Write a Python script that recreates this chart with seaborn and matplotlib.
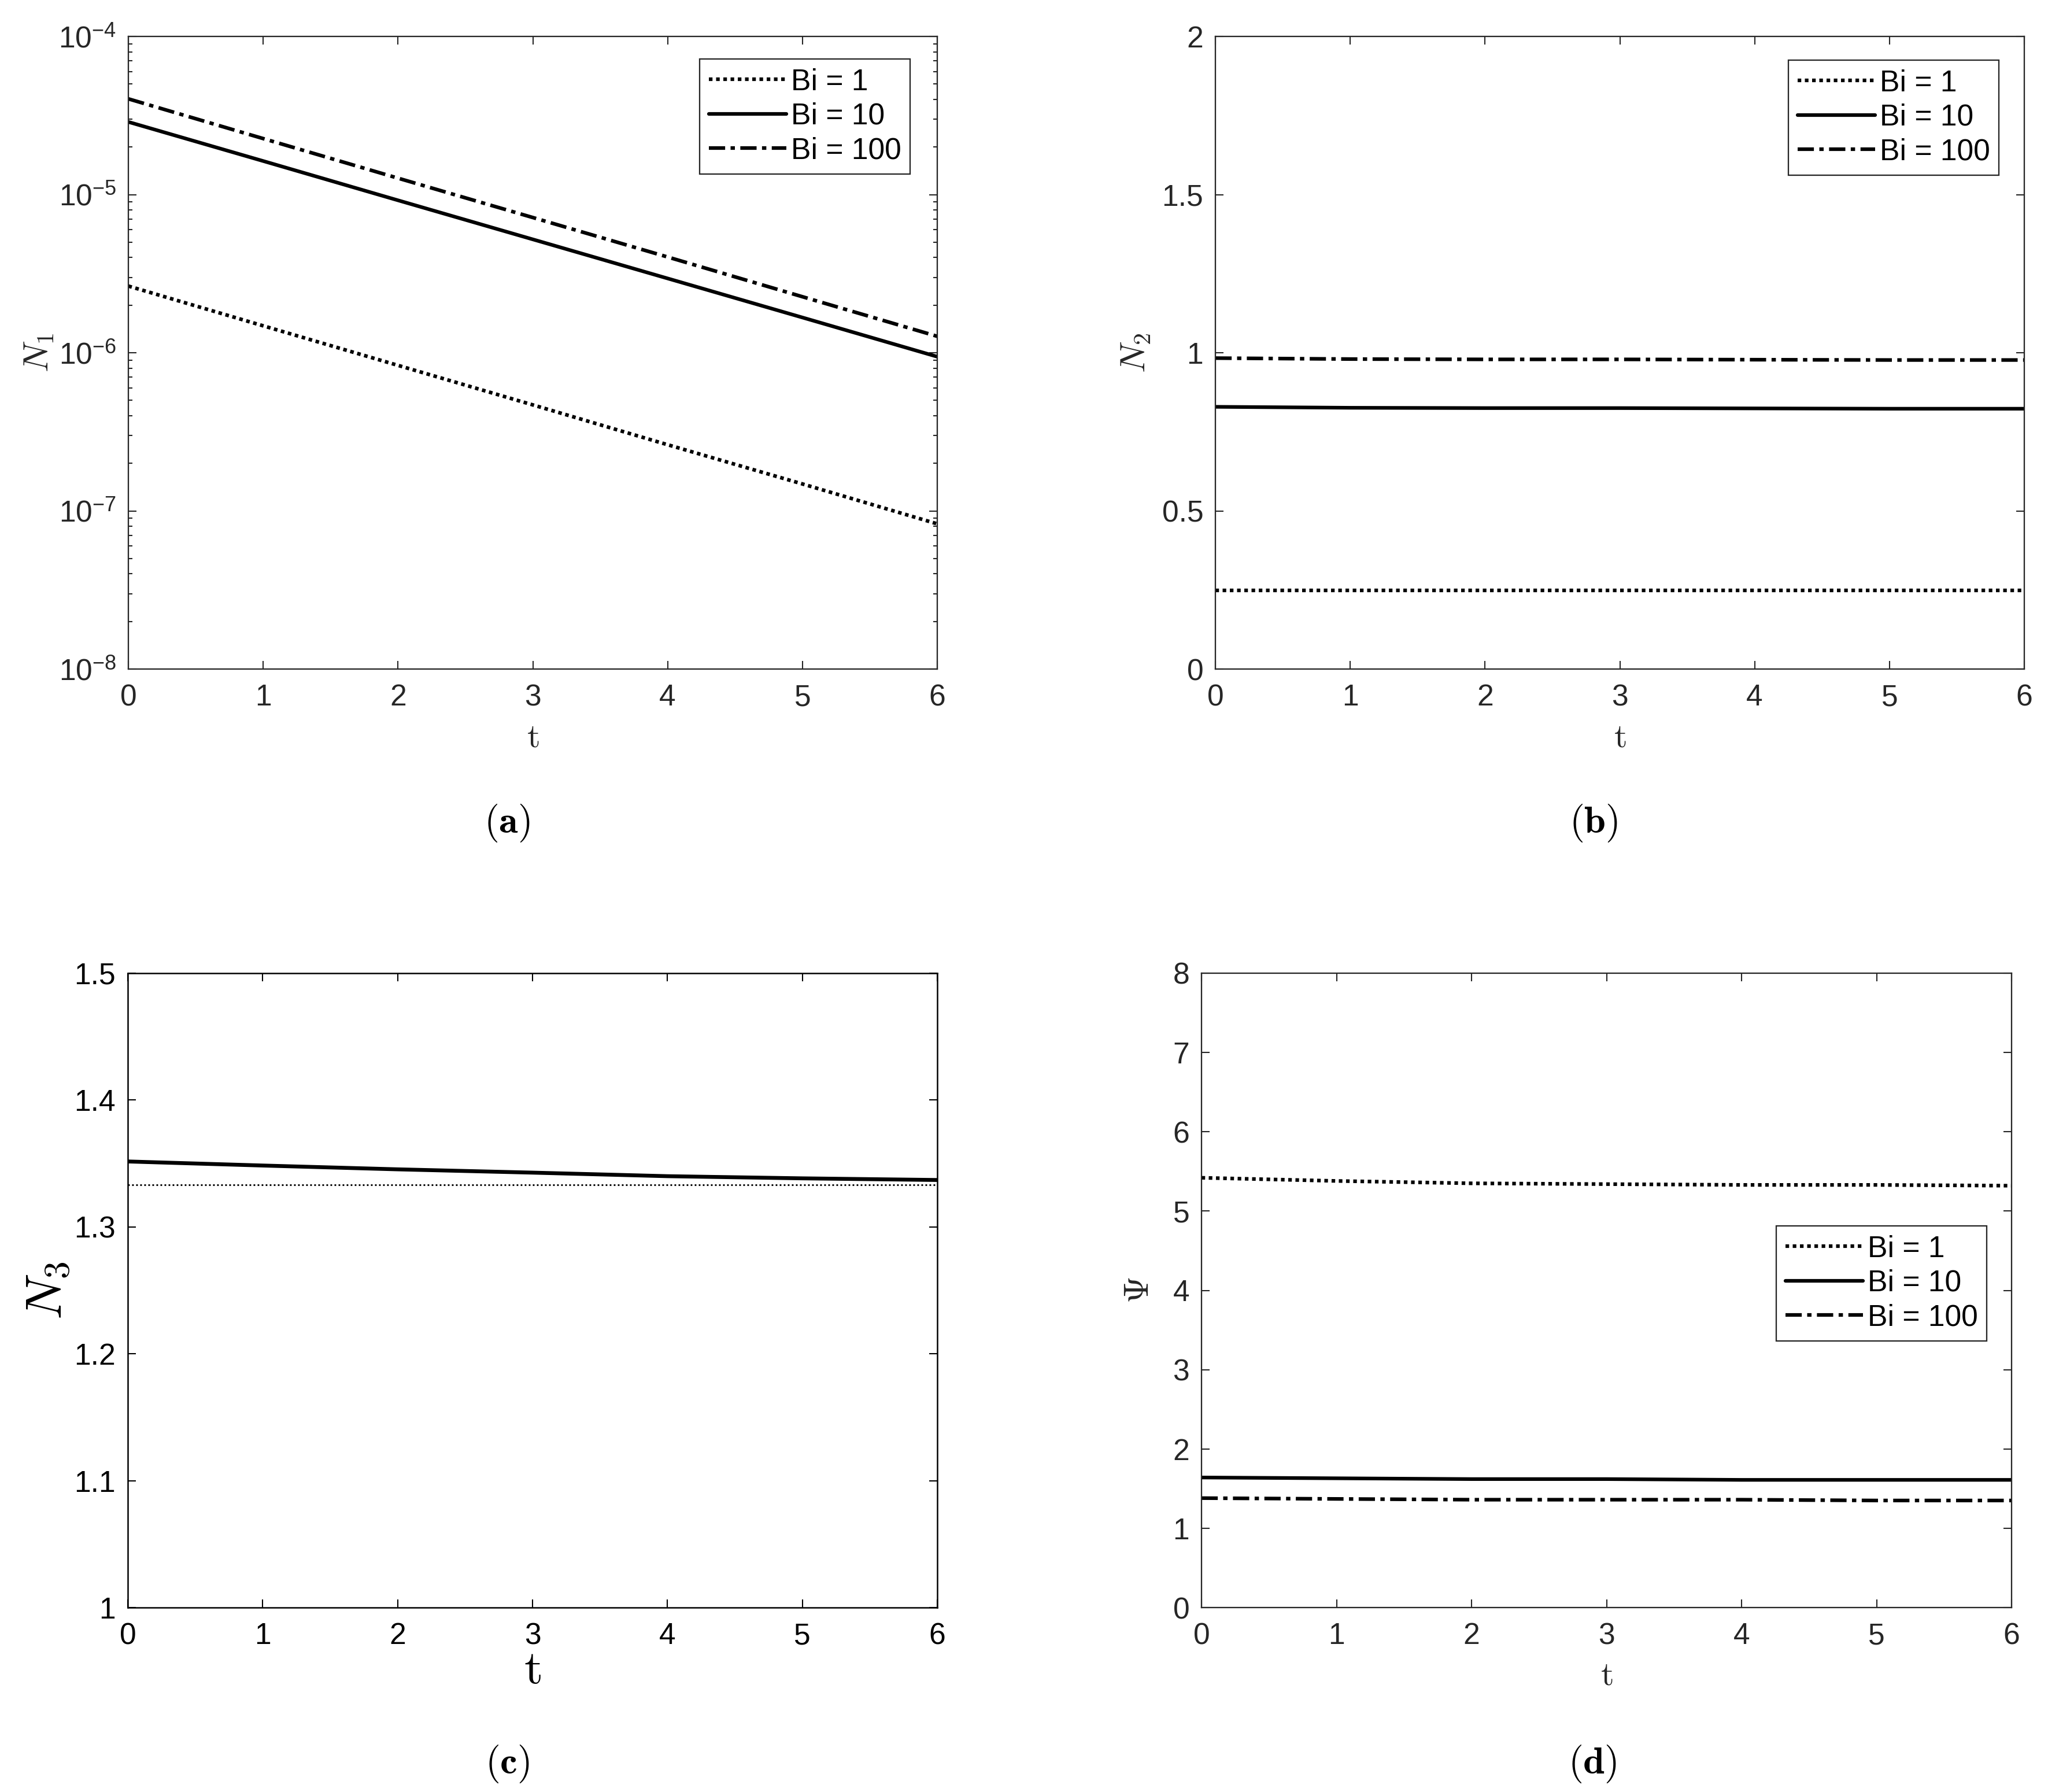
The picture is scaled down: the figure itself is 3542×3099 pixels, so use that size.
import numpy as np
import pandas as pd
import matplotlib
matplotlib.use("Agg")
import matplotlib.pyplot as plt
from matplotlib.ticker import FuncFormatter, LogLocator, MultipleLocator, NullFormatter
import seaborn as sns

# ---------------- data ----------------
t = [0, 1, 2, 3, 4, 5, 6]
labels = ["Bi = 1", "Bi = 10", "Bi = 100"]

N1_bi1 = [2.64e-6, 1.48e-6, 8.32e-7, 4.68e-7, 2.62e-7, 1.48e-7, 8.28e-8]
N1_bi10 = [2.88e-5, 1.63e-5, 9.20e-6, 5.21e-6, 2.95e-6, 1.67e-6, 9.44e-7]
N1_bi100 = [4.03e-5, 2.26e-5, 1.27e-5, 7.16e-6, 4.03e-6, 2.26e-6, 1.27e-6]

N2_bi1 = [0.249, 0.249, 0.249, 0.249, 0.249, 0.249, 0.249]
N2_bi10 = [0.829, 0.826, 0.825, 0.825, 0.824, 0.823, 0.823]
N2_bi100 = [0.983, 0.980, 0.979, 0.979, 0.978, 0.977, 0.977]

N3_bi1 = [1.3333, 1.3333, 1.3333, 1.3333, 1.3333, 1.3333, 1.3333]
N3_bi10 = [1.3516, 1.3484, 1.3454, 1.3428, 1.3400, 1.3383, 1.3370]

Psi_bi1 = [5.42, 5.38, 5.35, 5.34, 5.33, 5.33, 5.32]
Psi_bi10 = [1.64, 1.63, 1.62, 1.62, 1.61, 1.61, 1.61]
Psi_bi100 = [1.38, 1.37, 1.36, 1.36, 1.36, 1.35, 1.35]

# ---------------- style ----------------
sns.set_theme(style="ticks")
plt.rcParams["font.family"] = ["Liberation Sans", "DejaVu Sans"]
plt.rcParams["mathtext.fontset"] = "cm"
plt.rcParams["axes.unicode_minus"] = False

W, H = 3542, 3099
DPI = 300
fig = plt.figure(figsize=(W / DPI, H / DPI), dpi=DPI)
fig.patch.set_facecolor("white")

GREY = "#262626"
TICK_FS = 12.4


def make_ax(left, right, top, bottom):
    return fig.add_axes([left / W, 1 - bottom / H, (right - left) / W, (bottom - top) / H])


def style_ax(ax, color=GREY, lw_frame=0.55):
    for s in ax.spines.values():
        s.set_color(color)
        s.set_linewidth(lw_frame)
        s.set_visible(True)
    ax.tick_params(which="both", direction="in", top=True, right=True,
                   colors=color, labelcolor=color, width=0.5, labelsize=TICK_FS)
    ax.tick_params(axis="y", which="both", pad=5)
    ax.tick_params(axis="x", which="both", pad=6)
    ax.tick_params(which="major", length=3.4)
    ax.tick_params(which="minor", length=1.7)
    ax.set_facecolor("white")
    ax.grid(False)


LW = 1.5
DOT = (0, (1.0, 1.0))
DASHDOT = (0, (4.5, 1.5, 1.2, 1.5))


def draw(ax, y, style, label, lw=LW):
    sns.lineplot(x=t, y=y, ax=ax, color="black", linewidth=lw, label=label,
                 linestyle=style, legend=False)


def add_legend(ax, ax_w, ax_h, right_gap, top_gap):
    leg = ax.legend(loc="upper right",
                    bbox_to_anchor=(1 - right_gap / ax_w, 1 - top_gap / ax_h),
                    borderaxespad=0, fontsize=TICK_FS, handlelength=2.6,
                    handletextpad=0.15, borderpad=0.3, labelspacing=0.2,
                    fancybox=False, framealpha=1, edgecolor=GREY)
    leg.get_frame().set_linewidth(0.55)
    for txt in leg.get_texts():
        txt.set_color("black")
    return leg


fmt_g = FuncFormatter(lambda v, p: "%g" % v)

# ---------------- (a) ----------------
axA = make_ax(222, 1621, 63, 1157)
draw(axA, N1_bi1, DOT, labels[0])
draw(axA, N1_bi10, "-", labels[1])
draw(axA, N1_bi100, DASHDOT, labels[2])
axA.set_yscale("log")
axA.set_ylim(1e-8, 1e-4)
axA.set_xlim(0, 6)
axA.set_xticks(range(0, 7))
axA.yaxis.set_major_locator(LogLocator(base=10, numticks=10))
axA.yaxis.set_minor_locator(LogLocator(base=10, subs=np.arange(2, 10), numticks=50))
axA.yaxis.set_minor_formatter(NullFormatter())
style_ax(axA)
axA.set_xlabel(r"$\mathrm{t}$", fontsize=14, color=GREY, va="center")
axA.xaxis.set_label_coords(0.5, -0.109)
axA.set_ylabel(r"$N_1$", fontsize=14.5, color=GREY, va="center")
axA.yaxis.set_label_coords(-0.110, 0.5)
add_legend(axA, 1399, 1094, 47, 39)

# ---------------- (b) ----------------
axB = make_ax(2102, 3501, 63, 1157)
draw(axB, N2_bi1, DOT, labels[0])
draw(axB, N2_bi10, "-", labels[1])
draw(axB, N2_bi100, DASHDOT, labels[2])
axB.set_ylim(0, 2)
axB.set_xlim(0, 6)
axB.set_xticks(range(0, 7))
axB.set_yticks([0, 0.5, 1, 1.5, 2])
axB.yaxis.set_major_formatter(fmt_g)
style_ax(axB)
axB.set_xlabel(r"$\mathrm{t}$", fontsize=14, color=GREY, va="center")
axB.xaxis.set_label_coords(0.5, -0.109)
axB.set_ylabel(r"$N_2$", fontsize=14.5, color=GREY, va="center")
axB.yaxis.set_label_coords(-0.098, 0.5)
add_legend(axB, 1399, 1094, 44, 41)

# ---------------- (c) ----------------
axC = make_ax(221, 1621, 1683, 2780)
draw(axC, N3_bi1, (0, (1.0, 1.4)), labels[0], lw=0.7)
draw(axC, N3_bi10, "-", labels[1], lw=1.6)
axC.set_ylim(1, 1.5)
axC.set_xlim(0, 6)
axC.set_xticks(range(0, 7))
axC.set_yticks([1, 1.1, 1.2, 1.3, 1.4, 1.5])
axC.yaxis.set_major_formatter(fmt_g)
style_ax(axC, color="black", lw_frame=0.6)
axC.set_xlabel(r"$\mathrm{t}$", fontsize=20, color="black", va="center")
axC.xaxis.set_label_coords(0.5, -0.099)
axC.set_ylabel(r"$N_3$", fontsize=21, color="black", va="center")
axC.yaxis.set_label_coords(-0.098, 0.5)

# ---------------- (d) ----------------
axD = make_ax(2078, 3479, 1683, 2780)
draw(axD, Psi_bi1, DOT, labels[0])
draw(axD, Psi_bi10, "-", labels[1])
draw(axD, Psi_bi100, DASHDOT, labels[2])
axD.set_ylim(0, 8)
axD.set_xlim(0, 6)
axD.set_xticks(range(0, 7))
axD.set_yticks(range(0, 9))
style_ax(axD)
axD.set_xlabel(r"$\mathrm{t}$", fontsize=14, color=GREY, va="center")
axD.xaxis.set_label_coords(0.5, -0.1076)
axD.set_ylabel(r"$\Psi$", fontsize=14.5, color=GREY, va="center")
axD.yaxis.set_label_coords(-0.077, 0.5)
add_legend(axD, 1401, 1097, 43, 437)

# ---------------- panel labels ----------------
for (x, y, s) in [(877, 1423, "a"), (2756, 1423, "b"), (877, 3050, "c"), (2754, 3050, "d")]:
    fig.text(x / W, 1 - y / H, r"$(\mathbf{%s})$" % s, fontsize=16,
             ha="center", va="center", color="black")

fig.savefig("out.png", dpi=DPI, facecolor="white")
